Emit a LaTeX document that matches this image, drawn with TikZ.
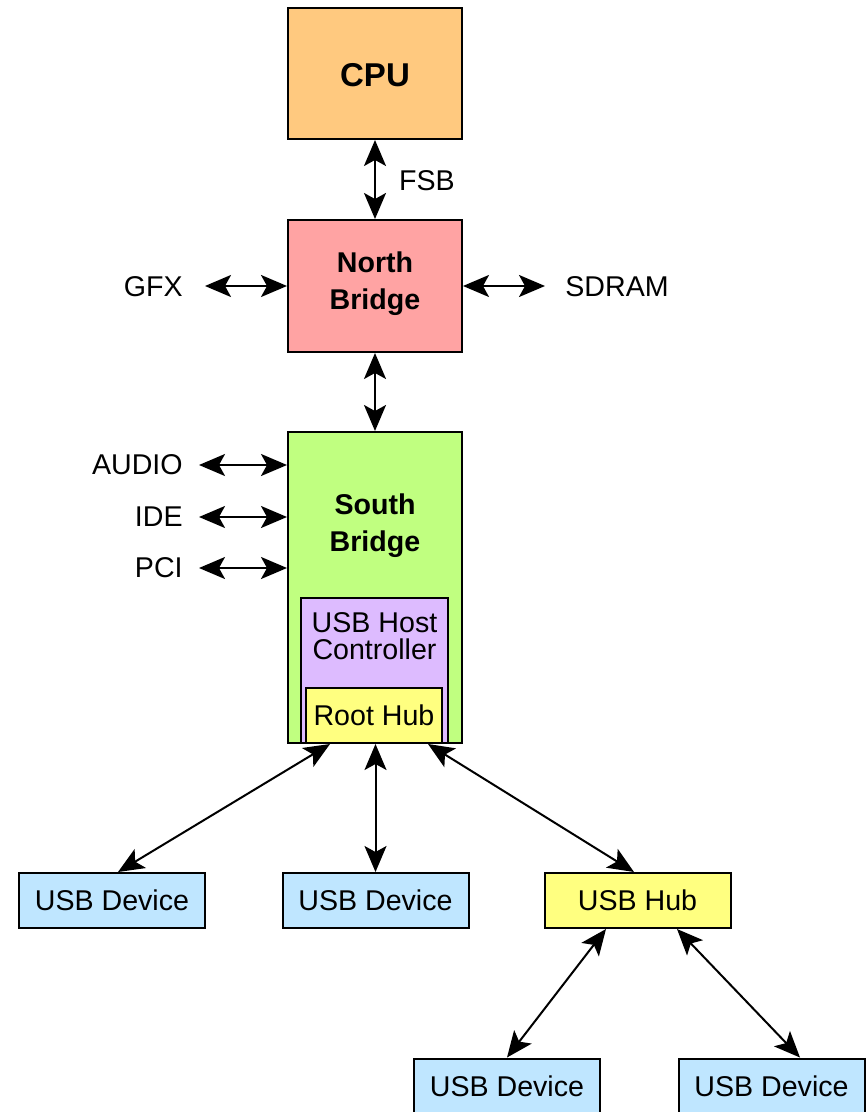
\documentclass[tikz,border=0pt]{standalone}
\usepackage{fontspec}
\setmainfont{Liberation Sans}
\usetikzlibrary{arrows.meta}
\definecolor{cpucol}{HTML}{FFC97F}
\definecolor{northcol}{HTML}{FFA3A3}
\definecolor{southcol}{HTML}{C0FF80}
\definecolor{hostcol}{HTML}{DDBBFF}
\definecolor{hubcol}{HTML}{FFFF80}
\definecolor{devcol}{HTML}{BFE6FF}
\begin{document}
\begin{tikzpicture}[x=0.5pt,y=-0.5pt,
box/.style={
	rectangle,draw=black,line width=1pt,inner sep=0pt,
	font=\fontsize{14.3}{13.5}\selectfont,align=center},
chip/.style={box,minimum width=87pt},
dev/.style={box,fill=devcol,minimum width=93pt,minimum height=27.5pt},
bold/.style={font=\fontsize{14.3}{18.5}\selectfont\bfseries,align=center},
label/.style={font=\fontsize{14.3}{17}\selectfont,inner xsep=8pt},
bus/.style={{Stealth[length=13pt,width=11pt,inset=3pt]}-{Stealth[length=13pt,width=11pt,inset=3pt]},line width=1pt}
]
\useasboundingbox (0,0) rectangle (867,1112);
% chipset
\node[chip,fill=cpucol,minimum height=65.5pt] (cpu) at (375,73.5) {};
\node[font=\fontsize{16.5}{20}\selectfont\bfseries] (cputxt) at (375,75) {CPU};
\node[chip,fill=northcol,minimum height=66pt] (north) at (375,286) {};
\node[bold] (northtxt) at (375,284) {North\\Bridge};
\node[chip,fill=southcol,minimum height=155.5pt] (south) at (375,587.5) {};
\node[bold] (southtxt) at (375,526) {South\\Bridge};
\node[box,fill=hostcol,minimum width=73.5pt,minimum height=72.5pt] (host) at (374.5,670.5) {};
\node[box,draw=none] (hosttxt) at (374.5,636.5) {USB Host\\Controller};
\node[box,fill=hubcol,minimum width=68pt,minimum height=27.5pt] (root) at (374,715.5) {Root Hub};
% outside
\node[label] (fsb) at (427,181) {FSB};
\node[label,anchor=east] (gfx) at (199,287) {GFX};
\node[label,anchor=west] (sdram) at (549,287) {SDRAM};
\node[label,anchor=east] (audio) at (199,465) {AUDIO};
\node[label,anchor=east] (ide) at (199,517) {IDE};
\node[label,anchor=east] (pci) at (199,568) {PCI};
% usb
\node[dev] (dev1) at (112,900.5) {USB Device};
\node[dev] (dev2) at (375.5,900.5) {USB Device};
\node[dev,fill=hubcol] (hub) at (637.5,900.5) {USB Hub};
\node[dev] (dev3) at (507,1086) {USB Device};
\node[dev] (dev4) at (771.5,1086) {USB Device};

\draw[bus] (cpu.south) -- (north.north);
\draw[bus] ([xshift=3pt]gfx.east |- north.west) -- (north.west);
\draw[bus] (north.east) -- ([xshift=-2pt]north.east -| sdram.west);
\draw[bus] (north.south) -- (south.north);
\draw[bus] (audio.east) -- (audio.east -| south.west);
\draw[bus] (ide.east) -- (ide.east -| south.west);
\draw[bus] (pci.east) -- (pci.east -| south.west);
\draw[bus] ([xshift=-22pt]root.south) -- ([xshift=3pt]dev1.north);
\draw[bus] (root.south -| dev2.north) -- (dev2.north);
\draw[bus] ([xshift=27pt]root.south) -- ([xshift=-1.75pt]hub.north);
\draw[bus] ([xshift=-15.75pt]hub.south) -- (dev3.north);
\draw[bus] ([xshift=19.75pt]hub.south) -- ([xshift=14.25pt]dev4.north);
\end{tikzpicture}
\end{document}
